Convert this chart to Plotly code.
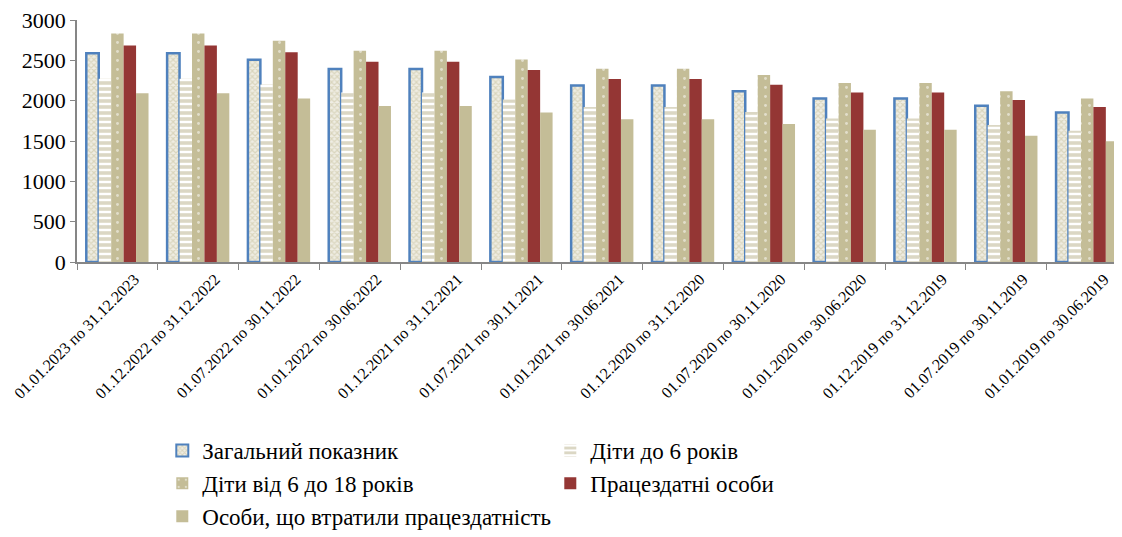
import plotly.graph_objects as go

categories = [
    "01.01.2023 по 31.12.2023", "01.12.2022 по 31.12.2022", "01.07.2022 по 30.11.2022",
    "01.01.2022 по 30.06.2022", "01.12.2021 по 31.12.2021", "01.07.2021 по 30.11.2021",
    "01.01.2021 по 30.06.2021", "01.12.2020 по 31.12.2020", "01.07.2020 по 30.11.2020",
    "01.01.2020 по 30.06.2020", "01.12.2019 по 31.12.2019", "01.07.2019 по 30.11.2019",
    "01.01.2019 по 30.06.2019",
]
zagalnyi = [2589, 2589, 2508, 2393, 2393, 2294, 2189, 2189, 2118, 2027, 2027, 1936, 1853]
dity_do_6 = [2272, 2272, 2201, 2100, 2100, 2013, 1921, 1921, 1859, 1779, 1779, 1699, 1626]
dity_6_18 = [2833, 2833, 2744, 2618, 2618, 2510, 2395, 2395, 2318, 2218, 2218, 2118, 2027]
pratsezdatni = [2684, 2684, 2600, 2481, 2481, 2379, 2270, 2270, 2197, 2102, 2102, 2007, 1921]
vtratyly = [2093, 2093, 2027, 1934, 1934, 1854, 1769, 1769, 1712, 1638, 1638, 1564, 1497]

BEIGE = "#C4BD97"
RED = "#943634"
BLUE = "#4F81BD"

fig = go.Figure()
fig.add_trace(go.Bar(
    name="Загальний показник", x=categories, y=zagalnyi,
    marker=dict(color="white", line=dict(color=BLUE, width=2.5),
                pattern=dict(shape="x", fgcolor=BEIGE, bgcolor="#EFEDE3", size=4, solidity=0.5)),
))
fig.add_trace(go.Bar(
    name="Діти до 6 років", x=categories, y=dity_do_6,
    marker=dict(color="white", line=dict(width=0),
                pattern=dict(shape="-", fgcolor="#B8B08A", bgcolor="white", size=6, solidity=0.6)),
))
fig.add_trace(go.Bar(
    name="Діти від 6 до 18 років", x=categories, y=dity_6_18,
    marker=dict(color=BEIGE, line=dict(width=0),
                pattern=dict(shape=".", fgcolor="white", bgcolor=BEIGE, size=9, solidity=0.08)),
))
fig.add_trace(go.Bar(
    name="Працездатні особи", x=categories, y=pratsezdatni,
    marker=dict(color=RED, line=dict(width=0)),
))
fig.add_trace(go.Bar(
    name="Особи, що втратили працездатність", x=categories, y=vtratyly,
    marker=dict(color=BEIGE, line=dict(width=0)),
))

serif = "Liberation Serif"

fig.update_layout(
    width=1122, height=537,
    margin=dict(l=69, r=0, t=12, b=283, autoexpand=False),
    paper_bgcolor="white", plot_bgcolor="white",
    barmode="group", bargap=0.23, bargroupgap=0,
    font=dict(family=serif, color="black"),
    showlegend=True,
    legend=dict(
        orientation="h", x=0.081, xanchor="left", y=-0.69, yanchor="top",
        entrywidth=343, entrywidthmode="pixels",
        font=dict(family=serif, size=23, color="black"),
        traceorder="normal", itemsizing="constant",
    ),
    xaxis=dict(
        type="category", range=[-0.5, 12.53], automargin=False,
        showline=True, linecolor="#868686", linewidth=1.5,
        ticks="outside", tickson="boundaries", ticklen=6, tickcolor="#868686",
        tickangle=-45, tickfont=dict(family=serif, size=16, color="black"),
        ticklabelshift=17, ticklabeloverflow="allow",
        showgrid=False,
    ),
    yaxis=dict(
        range=[0, 3000], tickvals=[0, 500, 1000, 1500, 2000, 2500, 3000], automargin=False,
        showline=True, linecolor="#868686", linewidth=1.5,
        ticks="outside", ticklen=5, tickcolor="#868686",
        tickfont=dict(family=serif, size=22, color="black"),
        ticklabeloverflow="allow",
        showgrid=False, zeroline=False,
    ),
)

fig.write_html("out.html")
